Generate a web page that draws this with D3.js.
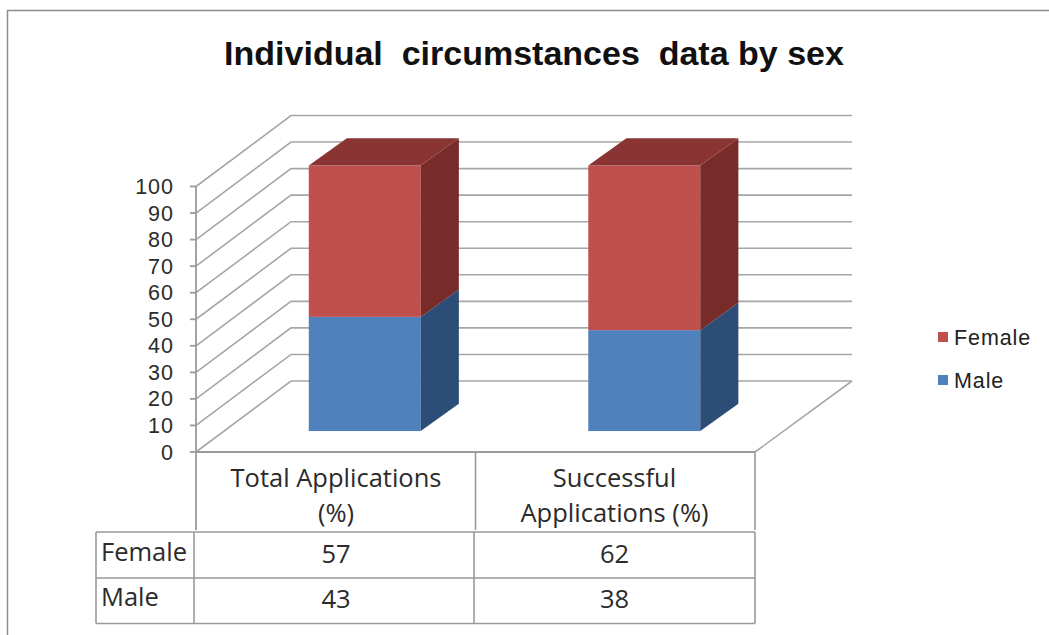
<!DOCTYPE html>
<html><head><meta charset="utf-8">
<script src="https://cdn.jsdelivr.net/npm/d3@7/dist/d3.min.js"></script>
<style>html,body{margin:0;padding:0;background:#fff}svg{display:block}</style>
</head><body><svg id="c" width="1049" height="635"></svg>
<script>
const titleText = "Individual  circumstances  data by sex";
const categories = ["Total Applications (%)", "Successful Applications (%)"];
const categoryLines = [["Total Applications","(%)"],["Successful","Applications (%)"]];
const maleValues = [43, 38];
const femaleValues = [57, 62];
const yTicks = [0,10,20,30,40,50,60,70,80,90,100];

const svg = d3.select("#c");
const y = d3.scaleLinear().domain([0,100]).range([452,186.5]);
const x = d3.scaleBand().domain(categories).range([196,755]);
const depth = {dx:95, dy:-71};
const barW = 112, gridC = "#a6a6a6", axisC = "#9a9a9a";
const depthFront = 0.295, depthBack = 0.68;

// outer frame
svg.append("path").attr("d","M7.5 635V10.5H1049").attr("fill","none").attr("stroke","#8c8c8c").attr("stroke-width",1.5);

// title
svg.append("text").attr("x",534).attr("y",65).attr("text-anchor","middle")
  .attr("font-family","Liberation Sans").attr("font-weight","bold").attr("font-size",34).attr("fill","#111")
  .style("white-space","pre").text(titleText);

// gridlines: side wall + back wall
const g = svg.append("g").attr("fill","none").attr("stroke",gridC).attr("stroke-width",1.6);
yTicks.forEach(t=>{
  g.append("path").attr("d",d3.line()([[x.range()[0],y(t)],[x.range()[0]+depth.dx,y(t)+depth.dy],[852,y(t)+depth.dy]]));
});
// floor right
g.append("path").attr("d",d3.line()([[x.range()[1],y(0)],[852,y(0)+depth.dy]]));
// front axis
const ax = svg.append("g").attr("fill","none").attr("stroke",axisC).attr("stroke-width",1.8);
ax.append("path").attr("d",d3.line()([[x.range()[0],y(100)],[x.range()[0],530]]));
ax.append("path").attr("d",d3.line()([[x.range()[0],y(0)],[x.range()[1],y(0)]]));
yTicks.forEach(t=>ax.append("path").attr("d",d3.line()([[x.range()[0]-6,y(t)],[x.range()[0],y(t)]])));
yTicks.forEach(t=>svg.append("text").attr("x",174).attr("y",y(t)+7.5).attr("text-anchor","end")
  .attr("font-family","Liberation Sans").attr("font-size",21.5).attr("letter-spacing",1).attr("fill","#2b2b2b").text(t));

// stacked 3D bars
function cuboid(cat, v0, v1, fFront, fSide, fTop, drawTop){
  const ox = depth.dx*depthFront, oy = depth.dy*depthFront;
  const lx = x(cat)+x.bandwidth()/2-barW/2+1+ox;
  const rx = lx+barW;
  const ddx = depth.dx*(depthBack-depthFront)+1.5, ddy = depth.dy*(depthBack-depthFront);
  const yb = y(v0)+oy, yt = y(v1)+oy;
  svg.append("rect").attr("x",lx).attr("y",yt).attr("width",barW).attr("height",yb-yt).attr("fill",fFront);
  svg.append("path").attr("fill",fSide).attr("d",d3.line()([[rx,yb],[rx+ddx,yb+ddy],[rx+ddx,yt+ddy],[rx,yt]])+"Z");
  if(drawTop) svg.append("path").attr("fill",fTop).attr("d",d3.line()([[lx,yt],[lx+ddx,yt+ddy],[rx+ddx,yt+ddy],[rx,yt]])+"Z");
}
categories.forEach((c,i)=>{
  cuboid(c,0,maleValues[i],"#4f81bd","#2c4d75","#3a6394",false);
  cuboid(c,maleValues[i],100,"#c0504d","#772c2a","#8a3533",true);
});

// category labels and data table
const tf = "Open Sans", tc = "#2b2b2b", tfs = 25.5;
const tx0 = 96, rows = [532,578,623.5], colX = [194,474,755];
const tb = svg.append("g").attr("fill","none").attr("stroke",axisC).attr("stroke-width",1.6);
tb.append("path").attr("d",`M${tx0} ${rows[0]}H755M${tx0} ${rows[1]}H755M${tx0} ${rows[2]}H755`);
[tx0,...colX].forEach(v=>tb.append("path").attr("d",`M${v} ${rows[0]}V${rows[2]}`));
tb.append("path").attr("d",`M475.5 ${y(0)}V530M755 ${y(0)}V530`);
categories.forEach((c,i)=>{
  const cx = (colX[i]+colX[i+1])/2+ (i==0?2:0);
  categoryLines[i].forEach((l,j)=>svg.append("text").attr("x",cx).attr("y",487+j*35).attr("text-anchor","middle")
    .attr("font-family",tf).attr("font-size",tfs).attr("fill",tc).text(l));
  svg.append("text").attr("x",cx).attr("y",563).attr("text-anchor","middle").attr("font-family",tf).attr("font-size",tfs).attr("fill",tc).text(femaleValues[i]);
  svg.append("text").attr("x",cx).attr("y",608).attr("text-anchor","middle").attr("font-family",tf).attr("font-size",tfs).attr("fill",tc).text(maleValues[i]);
});
svg.append("text").attr("x",101).attr("y",561).attr("font-family",tf).attr("font-size",tfs).attr("fill",tc).text("Female");
svg.append("text").attr("x",101).attr("y",606).attr("font-family",tf).attr("font-size",tfs).attr("fill",tc).text("Male");

// legend
const legend = [["Female","#c0504d",337],["Male","#4f81bd",380]];
legend.forEach(([n,col,ly])=>{
  svg.append("rect").attr("x",938).attr("y",ly-5).attr("width",10).attr("height",10).attr("fill",col);
  svg.append("text").attr("x",954).attr("y",ly+7.5).attr("font-family","Liberation Sans").attr("font-size",21.5).attr("letter-spacing",0.9).attr("fill","#222").text(n);
});
</script></body></html>
